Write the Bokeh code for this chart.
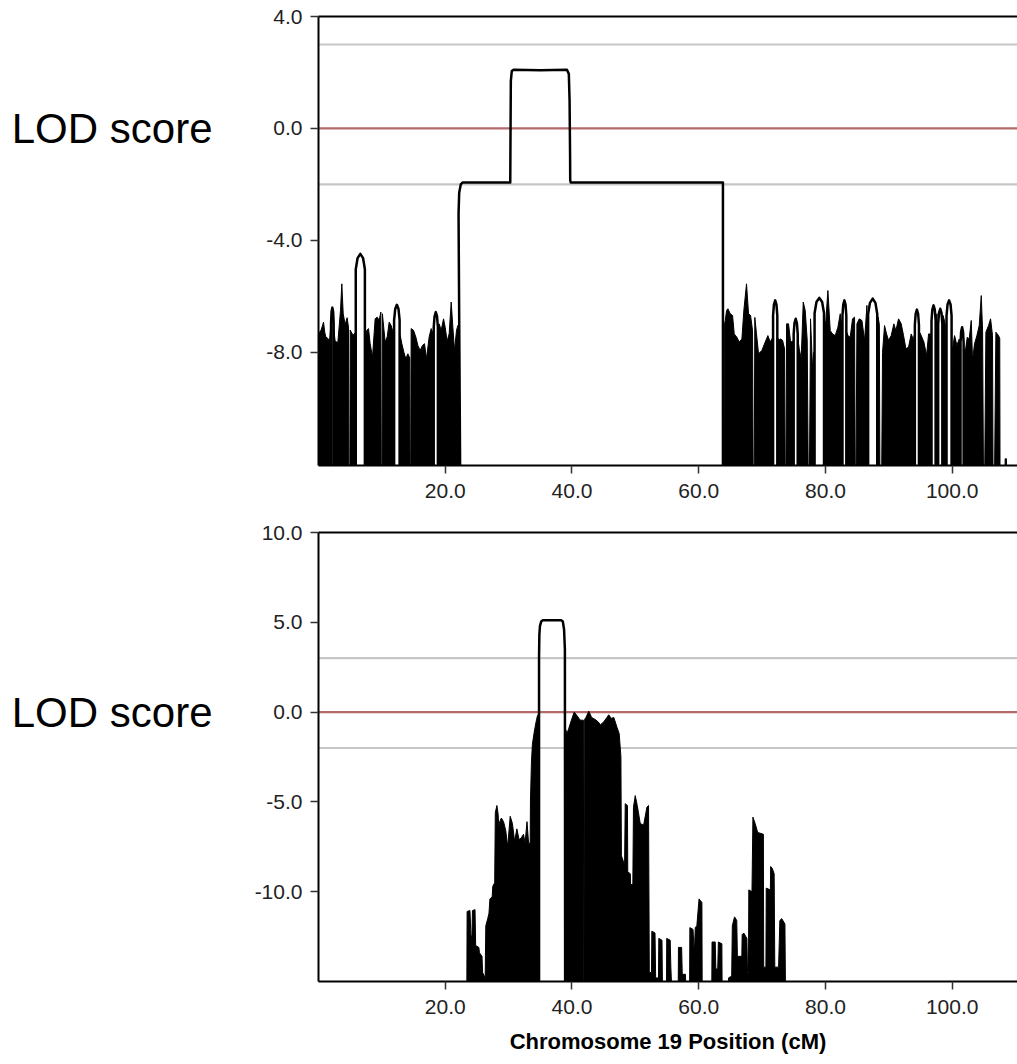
from bokeh.plotting import figure
from bokeh.layouts import column
from bokeh.models import Span, FixedTicker, PrintfTickFormatter, LinearAxis, Range1d
from bokeh.embed import file_html
from bokeh.resources import INLINE

FONT = "Liberation Sans"

# ---------------- data ----------------
x_ticks = [20, 40, 60, 80, 100]
top_y_ticks = [-8, -4, 0, 4]
bot_y_ticks = [-10, -5, 0, 5, 10]
threshold_lines = [3.0, -2.0]
zero_line = 0.0
x_title = "Chromosome 19 Position (cM)"
y_title = "LOD score"

TOP_FLOOR = -13.0   # LOD = -inf drawn below the panel floor
BOT_FLOOR = -16.0

# top panel: envelope of the densely oscillating segments
top_env_x = [0.0, 0.42, 0.79, 1.0, 1.16, 1.47, 1.74, 1.95, 1.98, 2.39, 2.42, 2.63, 3.05, 3.47, 3.68, 3.9,
             4.2, 4.52, 4.73, 4.8, 4.95, 5.0, 5.16, 5.47, 5.75, 5.88, 7.32, 7.45, 7.63, 7.89, 8.15, 8.52,
             8.94, 9.26, 9.57, 9.84, 9.9, 10.02, 10.08, 10.52, 10.84, 11.15, 11.47, 11.8, 11.93, 12.8,
             12.9, 13.15, 13.47, 13.78, 14.1, 14.4, 14.45, 14.55, 14.62, 14.99, 15.36, 15.68, 16.04,
             16.41, 16.73, 17.04, 17.46, 17.78, 18.05, 18.18, 18.84, 18.95, 19.04, 19.36, 19.73, 19.99,
             20.3, 20.62, 20.94, 21.2, 21.46, 21.78, 21.99, 22.15, 22.2,
             63.95, 64.05, 64.18, 64.4, 64.6, 64.97, 65.34, 65.6, 66.02, 66.39, 66.81, 67.12, 67.54,
             67.86, 68.18, 68.49, 68.6, 68.75, 68.85, 69.1, 69.44, 69.96, 70.49, 70.91, 71.28, 71.6,
             71.73, 72.4, 72.55, 72.6, 72.91, 73.23, 73.54, 73.65, 73.75, 73.86, 74.17, 74.49, 74.85,
             74.98, 75.62, 75.75, 75.86, 76.17, 76.49, 76.8, 77.12, 77.3, 77.45, 77.64, 77.96, 78.15,
             78.28, 79.77, 79.9, 80.06, 80.38, 80.75, 81.12, 81.54, 81.96, 82.33, 82.55, 82.68, 83.29,
             83.4, 83.54, 83.9, 84.27, 84.59, 84.7, 84.8, 84.96, 85.33, 85.75, 86.17, 86.54, 86.73,
             88.17, 88.3, 88.5, 88.6, 88.85, 89.0, 89.32, 89.64, 89.95, 90.37, 90.79, 91.11, 91.53,
             91.95, 92.32, 92.69, 93.11, 93.53, 93.9, 94.0, 94.1, 94.75, 94.9, 95.11, 95.53, 95.95,
             96.27, 96.6, 96.73, 97.38, 97.5, 97.6, 97.78, 98.44, 98.55, 98.7, 98.9, 99.1, 99.9, 100.0,
             100.37, 100.74, 101.1, 101.25, 101.31, 101.8, 101.9, 102.05, 102.37, 102.68, 103.0,
             103.21, 103.52, 103.89, 104.26, 104.58, 104.79, 104.95, 105.1, 105.31, 105.73, 106.05,
             106.36, 106.45, 106.65, 106.89, 107.31, 107.5, 107.55,
             108.3, 108.35, 108.55, 108.6]
top_env_y = [-7.33, -7.2, -6.92, -7.3, -7.45, -7.5, -7.6, -7.0, TOP_FLOOR, TOP_FLOOR, -7.2, -7.6, -7.65, -6.5, -5.55, -6.62,
             -7.0, -6.76, -7.1, TOP_FLOOR, TOP_FLOOR, -7.2, -7.27, -7.39, -7.3, TOP_FLOOR, TOP_FLOOR, -7.4, -7.21, -7.15, -7.69, -8.17,
             -6.8, -6.74, -6.85, -6.56, TOP_FLOOR, TOP_FLOOR, -6.62, -7.63, -7.45, -6.92, -7.04, -7.3, TOP_FLOOR, TOP_FLOOR,
             -7.4, -7.69, -7.99, -8.23, -8.05, -8.2, TOP_FLOOR, TOP_FLOOR, -7.15, -7.21, -7.45, -7.75, -7.93,
             -7.75, -7.69, -8.23, -7.45, -7.15, -7.3, TOP_FLOOR, TOP_FLOOR, -7.1, -6.98, -7.21, -6.8, -7.1,
             -7.6, -7.33, -6.2, -7.1, -7.93, -7.21, -7.04, -7.1, TOP_FLOOR,
             TOP_FLOOR, -7.0, -6.86, -6.5, -6.44, -6.62, -6.68, -7.34, -7.46, -7.63, -7.52, -6.5, -5.55,
             -6.62, -6.68, -7.22, TOP_FLOOR, TOP_FLOOR, -6.75, -7.3, -8.05, -7.93, -7.63, -7.4, -7.63, -7.5,
             TOP_FLOOR, TOP_FLOOR, -7.5, -7.57, -7.52, -7.57, -7.87, TOP_FLOOR, TOP_FLOOR, -6.98, -6.98, -7.63, -7.6,
             TOP_FLOOR, TOP_FLOOR, -7.7, -7.87, -8.23, -6.2, -6.5, -7.57, TOP_FLOOR, TOP_FLOOR, -6.8, -8.59, -8.0,
             TOP_FLOOR, TOP_FLOOR, -7.0, -6.86, -5.79, -7.22, -7.34, -7.4, -7.1, -6.62, -7.0, TOP_FLOOR, TOP_FLOOR,
             -7.3, -7.4, -7.46, -6.8, -6.74, TOP_FLOOR, TOP_FLOOR, -6.98, -6.8, -6.86, -7.57, -6.32, TOP_FLOOR,
             TOP_FLOOR, -6.74, -7.0, TOP_FLOOR, TOP_FLOOR, -8.0, -7.04, -7.34, -7.57, -7.4, -6.98, -7.22, -6.8,
             -6.98, -7.4, -7.87, -7.81, -7.34, -7.57, -7.4, TOP_FLOOR, TOP_FLOOR, -7.3, -7.4, -7.63, -8.11,
             -7.34, -7.34, TOP_FLOOR, TOP_FLOOR, -6.7, -6.62, TOP_FLOOR, TOP_FLOOR, -6.68, -6.8, -7.0, TOP_FLOOR, TOP_FLOOR, -7.93,
             -7.4, -7.75, -7.52, -7.6, TOP_FLOOR, TOP_FLOOR, -7.9, -7.99, -7.46, -7.52, -6.86,
             -8.29, -7.69, -7.4, -7.04, -5.97, -7.22, TOP_FLOOR, TOP_FLOOR, -7.28, -7.04, -6.8,
             -7.4, TOP_FLOOR, TOP_FLOOR, -7.28, -7.4, -7.5, TOP_FLOOR,
             TOP_FLOOR, -11.8, -11.8, TOP_FLOOR]

# top panel: isolated smooth peaks (left edge, right edge, peak LOD)
top_arch_left = [1.98, 5.88, 11.93, 18.18, 71.73, 74.98, 78.28, 82.68, 86.73, 94.1, 96.73, 97.78, 99.1, 101.31]
top_arch_right = [2.39, 7.32, 12.8, 18.84, 72.4, 75.62, 79.77, 83.29, 88.17, 94.75, 97.38, 98.44, 99.9, 101.8]
top_arch_peak = [-6.4, -4.48, -6.3, -6.56, -6.14, -6.8, -6.05, -6.14, -6.08, -6.47, -6.32, -6.44, -6.14, -7.1]

# top panel: smooth profile (plateaus)
top_line_x = [22.37, 22.1, 22.2, 22.45, 22.73, 30.26, 30.28, 30.35, 30.5, 30.78, 35.0, 39.2, 39.5, 39.62,
              39.7, 39.72, 39.8, 63.82, 63.82]
top_line_y = [TOP_FLOOR, -3.05, -2.3, -2.0, -1.93, -1.93, -1.0, 1.7, 2.05, 2.1, 2.08, 2.1, 1.95, 1.0,
              -1.0, -1.85, -1.93, -1.93, TOP_FLOOR]

# bottom panel: envelope of the densely oscillating segments
bot_env_x = [23.4, 23.45, 23.9, 24.05, 24.2, 24.3, 24.7, 24.8, 25.3, 25.4, 25.8, 25.9, 26.3, 26.4, 26.7,
             26.9, 27.05, 27.4, 27.5, 27.8, 27.9, 28.15, 28.35, 28.45, 28.6, 28.85, 29.2, 29.55, 29.85,
             30.25, 30.6, 30.95, 31.3, 31.65, 32.0, 32.35, 32.6, 32.9, 33.15, 33.4, 33.45, 33.6, 33.75,
             34.0, 34.3, 34.55, 34.75, 34.8,
             38.92, 38.95, 39.2, 39.5, 39.95, 40.35, 40.8, 41.3, 41.8, 41.85, 41.97, 42.0, 42.2, 42.65,
             43.1, 43.6, 44.0, 44.5, 45.0, 45.5, 45.8, 46.2, 46.6, 47.1, 47.45, 47.72, 47.8, 48.1, 48.3,
             48.4, 48.75, 48.8, 49.2, 49.25, 49.6, 49.7, 49.98, 50.3, 50.77, 51.3, 51.82, 52.08, 52.2,
             52.55, 52.6, 53.1, 53.2, 53.65, 53.7, 54.2, 54.3, 54.9, 54.95, 55.5, 55.6, 55.8, 56.75,
             56.8, 57.3, 57.4, 57.9, 58.0, 58.55, 58.6, 59.1, 59.3, 59.45, 59.7, 60.05, 60.5, 60.55,
             62.05, 62.1, 62.6, 62.7, 63.0, 63.1, 63.65, 63.7, 64.65, 64.7, 65.2, 65.3, 65.65, 66.0,
             66.1, 66.8, 66.85, 67.1, 67.6, 67.7, 67.85, 67.9, 68.4, 68.55, 68.9, 69.3, 70.2, 70.25,
             70.6, 70.65, 71.3, 71.35, 71.6, 71.9, 72.0, 72.6, 72.8, 73.1, 73.6, 73.7]
bot_env_y = [BOT_FLOOR, -11.1, -11.05, -12.4, -12.6, -11.05, -11.0, -13.0, -13.1, -13.4, -13.6, -14.5, -14.8, -11.9, -11.5,
             -11.2, -10.4, -10.3, -9.7, -9.5, -5.6, -5.2, -5.7, -6.4, -6.1, -5.9, -6.1, -6.6, -7.5,
             -5.8, -6.2, -7.2, -6.5, -7.1, -7.0, -6.8, -7.3, -6.1, -7.3, -7.3, -4.9, -2.8, -1.8,
             -1.2, -0.6, -0.2, -0.1, BOT_FLOOR,
             BOT_FLOOR, -0.9, -1.2, -0.9, -0.4, 0.0, -0.2, -0.45, -0.45, BOT_FLOOR, BOT_FLOOR, -0.4, -0.3, 0.05,
             -0.3, -0.4, -0.5, -0.7, -0.55, -0.3, -0.15, -0.35, -0.3, -0.85, -1.2, -2.5, -8.0, -8.3, -8.5,
             -5.1, -5.2, -8.9, -9.0, -9.6, -9.6, -5.3, -4.65, -5.2, -6.2, -6.3, -5.3, -5.2, -14.5,
             -14.5, -12.2, -12.3, -14.8, -14.8, -12.6, -12.7, BOT_FLOOR, BOT_FLOOR, -12.6, -12.7, -14.2, BOT_FLOOR, BOT_FLOOR,
             -13.1, -13.1, -14.6, -14.6, BOT_FLOOR, BOT_FLOOR, -12.0, -12.1, -13.5, -12.0, -11.9, -10.4, -10.6, BOT_FLOOR,
             BOT_FLOOR, -12.8, -12.8, -14.3, -14.3, -12.8, -12.9, BOT_FLOOR, BOT_FLOOR, -14.8, -14.7, -11.9, -11.4, -11.6,
             -13.6, -13.6, -12.4, -12.3, -12.6, -14.5, -14.5, -9.9, -10.0, -5.85, -6.2, -6.7, -6.8, -14.2,
             -14.2, -9.8, -9.9, -8.6, -8.7, -9.0, -14.2, -14.2, -11.6, -11.5, -11.8, BOT_FLOOR]

# bottom panel: smooth profile (peak plateau)
bot_line_x = [34.8, 34.8, 34.85, 34.95, 35.15, 35.4, 38.3, 38.55, 38.75, 38.88, 38.92]
bot_line_y = [BOT_FLOOR, 3.0, 4.3, 4.8, 5.05, 5.12, 5.12, 5.05, 4.6, 3.5, BOT_FLOOR]

X_START, X_END = 0.0, 110.3

FIG_W = 1017
BORDER_L = 318


def style_panel(p, yticks, lod_standoff):
    p.xgrid.visible = False
    p.ygrid.visible = False
    p.outline_line_color = None
    p.background_fill_color = "white"
    p.border_fill_color = "white"
    xax = p.below[0]
    yax = p.left[0]
    for ax in (xax, yax):
        ax.axis_line_color = "black"
        ax.axis_line_width = 2
        ax.major_tick_line_color = "#333333"
        ax.major_tick_line_width = 1.5
        ax.major_tick_out = 8
        ax.major_tick_in = 0
        ax.minor_tick_line_color = None
        ax.major_label_text_font = FONT
        ax.major_label_text_font_size = "21px"
        ax.major_label_text_color = "#222222"
        ax.formatter = PrintfTickFormatter(format="%.1f")
    xax.ticker = FixedTicker(ticks=x_ticks)
    yax.ticker = FixedTicker(ticks=yticks)
    xax.major_label_standoff = 10
    yax.major_label_standoff = 8
    top_spine = LinearAxis(ticker=FixedTicker(ticks=[]), axis_line_color="black", axis_line_width=2,
                           major_tick_out=0, major_tick_in=0, minor_tick_out=0, minor_tick_in=0,
                           major_label_text_font_size="0px", major_label_standoff=0)
    p.add_layout(top_spine, "above")
    for yv in threshold_lines:
        p.add_layout(Span(location=yv, dimension="width", line_color="#c6c6c6", line_width=2.2, level="underlay"))
    p.add_layout(Span(location=zero_line, dimension="width", line_color="#b46a6a", line_width=2.2, level="underlay"))
    # "LOD score" written level with LOD = 0, left of the tick labels
    lod_axis = LinearAxis(ticker=FixedTicker(ticks=[zero_line]),
                          major_label_overrides={zero_line: y_title},
                          axis_line_color=None, major_tick_line_color=None, minor_tick_line_color=None,
                          major_tick_out=0, major_tick_in=0, minor_tick_out=0, minor_tick_in=0,
                          major_label_text_font=FONT, major_label_text_font_size="42px",
                          major_label_text_color="black", major_label_standoff=lod_standoff)
    p.add_layout(lod_axis, "left")
    return xax


# ---------------- top panel ----------------
p1 = figure(width=FIG_W, height=515, x_range=Range1d(X_START, X_END), y_range=Range1d(-12.04, 4.0),
            output_backend="svg", toolbar_location=None,
            min_border_left=BORDER_L, min_border_right=0, min_border_top=16, min_border_bottom=50)
style_panel(p1, top_y_ticks, 51)
p1.varea(x=top_env_x, y1=TOP_FLOOR, y2=top_env_y, fill_color="black")
p1.line(top_env_x, top_env_y, line_color="black", line_width=1)
arch_xs, arch_ys = [], []
for l, r, pk in zip(top_arch_left, top_arch_right, top_arch_peak):
    w = r - l
    arch_xs.append([l, l, l + 0.2 * w, (l + r) / 2, r - 0.2 * w, r, r])
    arch_ys.append([TOP_FLOOR, pk - 0.55, pk - 0.15, pk, pk - 0.15, pk - 0.55, TOP_FLOOR])
p1.multi_line(arch_xs, arch_ys, line_color="black", line_width=2.5, line_join="round")
p1.line(top_line_x, top_line_y, line_color="black", line_width=2.5, line_join="round")

# ---------------- bottom panel ----------------
p2 = figure(width=FIG_W, height=548, x_range=Range1d(X_START, X_END), y_range=Range1d(-15.0, 10.0),
            output_backend="svg", toolbar_location=None,
            min_border_left=BORDER_L, min_border_right=0, min_border_top=17, min_border_bottom=82)
xax2 = style_panel(p2, bot_y_ticks, 39)
xax2.axis_label = x_title
xax2.axis_label_text_font = FONT
xax2.axis_label_text_font_style = "bold"
xax2.axis_label_text_font_size = "22px"
xax2.axis_label_text_color = "black"
xax2.axis_label_standoff = 12
p2.varea(x=bot_env_x, y1=BOT_FLOOR, y2=bot_env_y, fill_color="black")
p2.line(bot_env_x, bot_env_y, line_color="black", line_width=1)
p2.line(bot_line_x, bot_line_y, line_color="black", line_width=2.5, line_join="round")

layout = column(p1, p2, spacing=0)
open("out.html", "w").write(file_html(layout, INLINE))
